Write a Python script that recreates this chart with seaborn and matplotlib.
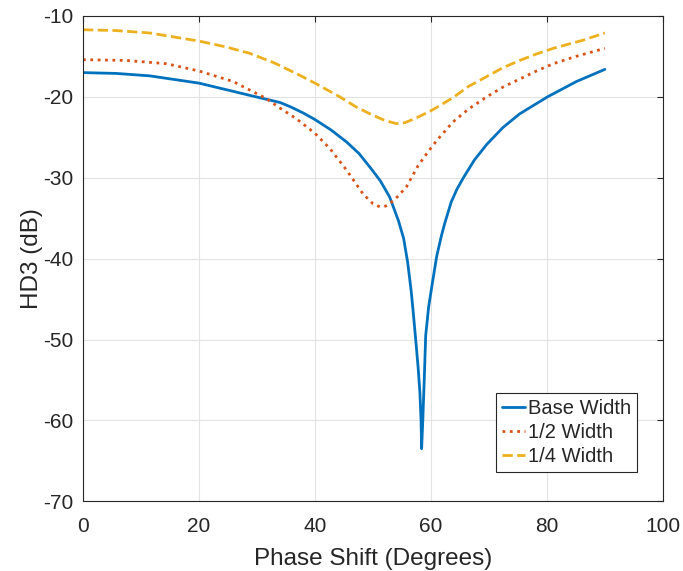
import matplotlib
matplotlib.use("Agg")
import matplotlib.pyplot as plt
import seaborn as sns
import pandas as pd

# ---------------------------------------------------------------------------
# data (phase shift in degrees, HD3 in dB)
# ---------------------------------------------------------------------------

base_x = [0, 5.7, 11.5, 20, 28.7, 34, 36, 38, 40, 42.8, 45.5, 47.6, 49.5, 51.3,
          52.9, 54.4, 55.3, 56.0, 56.6, 57.0, 57.5, 57.8, 58.1, 58.3, 58.4,
          58.6, 58.85, 59.1, 59.6, 60.3, 61.0, 61.8, 62.4, 63.5, 64.5, 65.6,
          67.5, 69.6, 72.4, 75.3, 80.1, 85.1, 90]
base_y = [-17.0, -17.1, -17.4, -18.3, -19.8, -20.7, -21.3, -22.0, -22.8, -24.1,
          -25.6, -27.0, -28.7, -30.4, -32.4, -35.3, -37.5, -40.5, -44.0, -47.0,
          -51.0, -53.5, -56.5, -60.0, -63.5, -60.0, -55.0, -49.5, -46.0, -42.8,
          -39.7, -37.2, -35.6, -33.0, -31.4, -30.0, -27.8, -25.9, -23.8, -22.1,
          -20.0, -18.1, -16.6]

half_x = [0, 7.5, 14.4, 20, 25.9, 31.6, 34, 36.8, 40, 42.6, 45.5, 48.3, 50.0,
          51.2, 52.2, 52.9, 54.3, 55.8, 57.8, 59.5, 61.0, 63.8, 66.5, 69.6, 72.4,
          75.3, 78.2, 81.1, 85.0, 90]
half_y = [-15.4, -15.5, -15.9, -16.8, -18.1, -20.2, -21.4, -22.7, -24.5, -26.4,
          -29.1, -32.0, -33.2, -33.6, -33.5, -33.2, -32.3, -31.1, -28.5, -26.8,
          -25.4, -23.1, -21.5, -20.0, -18.8, -17.8, -16.8, -15.9, -15.0, -14.0]

quarter_x = [0, 5.7, 11.5, 20, 24.5, 28.7, 33, 37.3, 40, 44.3, 47, 49.5, 52, 54,
             55.5, 57.5, 60.3, 63.8, 66.5, 69.6, 72.4, 75.3, 78.2, 81.1, 86.2, 90]
quarter_y = [-11.7, -11.8, -12.1, -13.1, -13.8, -14.6, -15.8, -17.3, -18.3, -20.0,
             -21.2, -22.1, -22.9, -23.3, -23.2, -22.6, -21.6, -20.1, -18.7, -17.5,
             -16.4, -15.5, -14.7, -14.0, -13.0, -12.1]

labels = ["Base Width", "1/2 Width", "1/4 Width"]
colors = ["#0072BD", "#D95319", "#EDB120"]
styles = ["-", ":", "--"]

sns.set_style("white")
plt.rcParams["font.family"] = ["Liberation Sans", "DejaVu Sans"]
plt.rcParams["axes.unicode_minus"] = False

fig = plt.figure(figsize=(6.83, 5.71), dpi=100)
ax = fig.add_axes([0.1215, 0.122, 0.849, 0.850])

series = [(base_x, base_y), (half_x, half_y), (quarter_x, quarter_y)]
for (xs, ys), lab, col, ls in zip(series, labels, colors, styles):
    df = pd.DataFrame({"x": xs, "y": ys})
    sns.lineplot(data=df, x="x", y="y", ax=ax, color=col, linestyle=ls,
                 linewidth=2.0, label=lab, sort=False)

ax.set_xlim(0, 100)
ax.set_ylim(-70, -10)
ax.set_xticks(range(0, 101, 20))
ax.set_yticks(range(-70, -9, 10))
ax.grid(True, color="#e3e3e3", linewidth=0.8)
ax.set_axisbelow(True)
for s in ax.spines.values():
    s.set_color("#262626")
    s.set_linewidth(0.8)
ax.tick_params(direction="in", length=4, width=0.8, colors="#262626",
               labelsize=15, top=True, right=True)
ax.tick_params(axis="x", pad=11)
ax.tick_params(axis="y", pad=7)
ax.set_xlabel("Phase Shift (Degrees)", fontsize=17.5, color="#262626", labelpad=9)
ax.set_ylabel("HD3 (dB)", fontsize=17.5, color="#262626", labelpad=0)

leg = ax.legend(loc="lower right", bbox_to_anchor=(0.955, 0.06), borderaxespad=0,
                fontsize=14.5, handlelength=1.1, handletextpad=0.15,
                borderpad=0.3, labelspacing=0.25, fancybox=False, framealpha=1)
leg.get_frame().set_edgecolor("#262626")
leg.get_frame().set_linewidth(0.8)

fig.savefig("out.png", dpi=100)
